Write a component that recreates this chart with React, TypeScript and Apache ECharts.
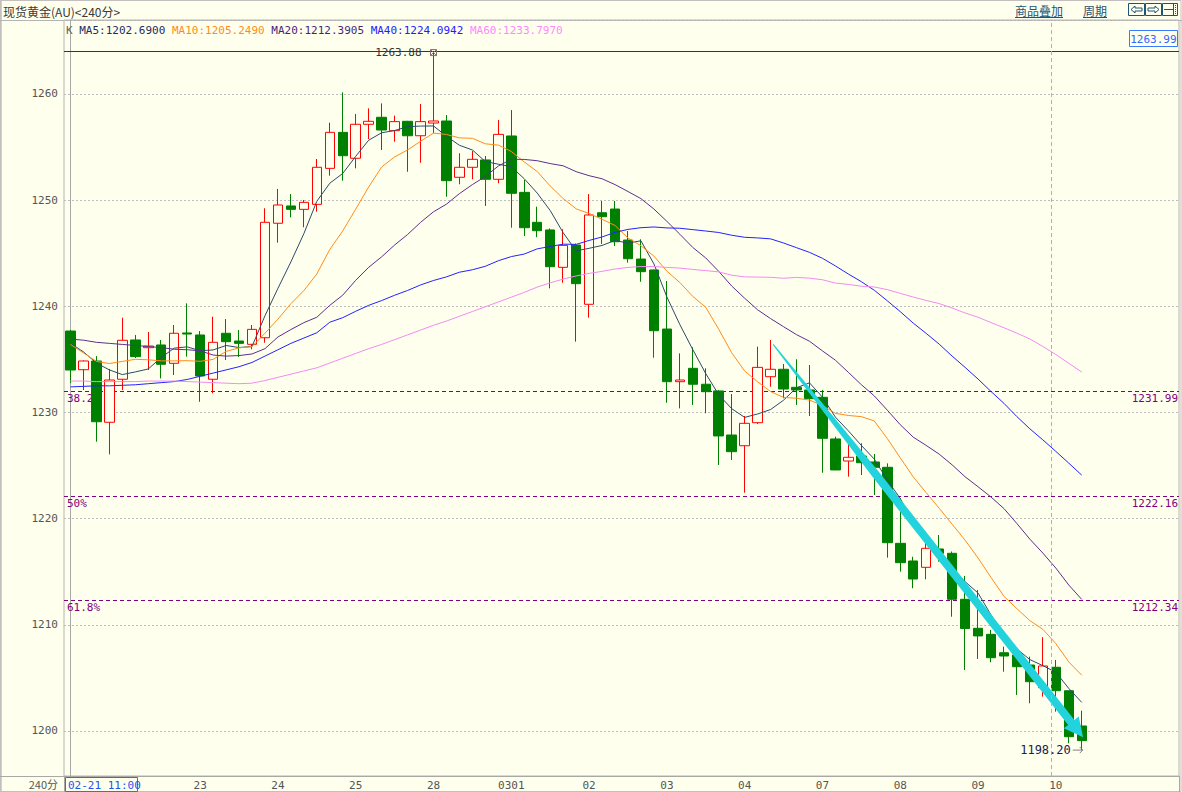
import React, { useEffect, useRef } from 'react';
import * as echarts from 'echarts';

const BG = '#ffffee';
const MONO = '"DejaVu Sans Mono", monospace';
const CJK = '"Noto Sans CJK SC", sans-serif';

// ---- categories (240-minute bars) ----
const days = ['02-21', '02-22', '02-23', '02-24', '02-25', '02-28', '03-01', '03-02', '03-03', '03-04', '03-07', '03-08', '03-09', '03-10'];
const dayTickLabels = ['', '', '23', '24', '25', '28', '0301', '02', '03', '04', '07', '08', '09', '10'];
const barsPerDay = [4, 6, 6, 6, 6, 6, 6, 6, 6, 6, 6, 6, 6, 3];
const dayHours = ['03:00', '07:00', '11:00', '15:00', '19:00', '23:00'];
const firstDayHourOffset = 2;
const emptySlots = 7;

// ---- candles: [open, close, low, high] ----
const ohlc = [
  [1237.66, 1233.99, 1232.77, 1237.76],
  [1234.02, 1234.84, 1232.10, 1234.90],
  [1234.84, 1229.12, 1227.24, 1235.30],
  [1229.07, 1233.05, 1226.05, 1234.09],
  [1233.12, 1236.79, 1232.10, 1238.92],
  [1236.82, 1235.25, 1235.12, 1237.29],
  [1236.09, 1236.25, 1233.99, 1237.57],
  [1236.35, 1234.53, 1233.20, 1236.82],
  [1234.62, 1237.45, 1233.52, 1238.23],
  [1237.48, 1237.38, 1235.25, 1240.27],
  [1237.29, 1233.43, 1231.00, 1237.66],
  [1233.12, 1236.60, 1231.80, 1239.01],
  [1237.45, 1236.66, 1234.93, 1238.79],
  [1236.72, 1236.50, 1235.22, 1237.76],
  [1236.41, 1237.82, 1235.94, 1238.23],
  [1237.03, 1247.90, 1236.56, 1249.22],
  [1247.81, 1249.53, 1245.98, 1251.04],
  [1249.44, 1249.12, 1248.37, 1250.56],
  [1249.12, 1249.78, 1247.43, 1250.00],
  [1249.59, 1253.08, 1248.90, 1253.86],
  [1252.98, 1256.37, 1252.29, 1257.28],
  [1256.37, 1254.17, 1251.82, 1260.14],
  [1253.93, 1257.13, 1252.98, 1258.10],
  [1257.13, 1257.41, 1255.74, 1258.63],
  [1257.79, 1256.59, 1254.71, 1259.10],
  [1256.53, 1257.38, 1255.49, 1257.94],
  [1257.41, 1256.05, 1252.66, 1257.45],
  [1256.05, 1257.38, 1253.51, 1259.04],
  [1257.25, 1257.44, 1256.28, 1263.88],
  [1257.44, 1251.82, 1250.31, 1258.00],
  [1252.14, 1253.08, 1251.48, 1254.40],
  [1253.08, 1253.83, 1251.95, 1254.61],
  [1253.77, 1251.95, 1249.44, 1254.14],
  [1251.95, 1256.18, 1251.57, 1257.53],
  [1256.03, 1250.63, 1247.39, 1258.47],
  [1250.72, 1247.39, 1246.60, 1251.88],
  [1247.90, 1247.11, 1246.50, 1249.37],
  [1247.18, 1243.72, 1241.68, 1247.33],
  [1243.66, 1245.73, 1242.21, 1247.24],
  [1245.76, 1242.12, 1236.66, 1245.90],
  [1240.18, 1248.59, 1238.92, 1250.56],
  [1248.80, 1248.43, 1245.86, 1249.91],
  [1249.15, 1246.07, 1245.67, 1249.91],
  [1246.23, 1244.47, 1244.10, 1247.08],
  [1244.44, 1243.25, 1242.30, 1246.30],
  [1243.41, 1237.69, 1235.15, 1243.45],
  [1237.85, 1232.89, 1230.91, 1242.37],
  [1232.89, 1233.05, 1230.38, 1235.56],
  [1234.15, 1232.65, 1230.70, 1236.13],
  [1232.65, 1231.95, 1229.92, 1234.15],
  [1232.02, 1227.78, 1225.05, 1232.10],
  [1227.87, 1226.30, 1225.52, 1231.73],
  [1226.86, 1228.97, 1222.44, 1229.66],
  [1229.03, 1234.24, 1228.91, 1236.19],
  [1233.36, 1234.06, 1232.42, 1236.82],
  [1234.06, 1232.20, 1231.33, 1234.56],
  [1232.36, 1232.11, 1230.70, 1235.00],
  [1232.11, 1231.29, 1229.66, 1234.46],
  [1231.42, 1227.56, 1224.32, 1232.11],
  [1227.50, 1224.58, 1224.55, 1227.71],
  [1225.42, 1225.77, 1223.95, 1227.02],
  [1225.89, 1225.26, 1224.10, 1227.09],
  [1225.33, 1224.83, 1222.22, 1226.08],
  [1224.83, 1217.73, 1216.32, 1225.20],
  [1217.67, 1215.85, 1215.00, 1221.91],
  [1216.01, 1214.31, 1213.44, 1216.41],
  [1215.41, 1217.20, 1214.28, 1218.52],
  [1217.14, 1216.73, 1215.94, 1218.46],
  [1216.73, 1212.40, 1210.76, 1216.90],
  [1212.40, 1209.65, 1205.74, 1214.60],
  [1209.67, 1208.95, 1206.78, 1213.28],
  [1209.10, 1206.90, 1206.47, 1209.51],
  [1207.37, 1207.06, 1205.58, 1207.94],
  [1207.16, 1206.05, 1203.39, 1207.79],
  [1206.21, 1204.64, 1202.61, 1207.00],
  [1204.08, 1206.12, 1203.23, 1208.82],
  [1206.00, 1203.79, 1201.82, 1206.69],
  [1203.79, 1199.46, 1198.84, 1203.80],
  [1200.47, 1199.09, 1198.20, 1201.91],
];

// ---- moving averages ----
const ma5 = [
  1236.5, 1235.7, 1234.65, 1234.0, 1233.56, 1233.81, 1234.09, 1235.17, 1236.05, 1236.17,
  1235.81, 1235.88, 1236.30, 1236.11, 1236.20, 1239.10, 1241.68, 1244.17, 1246.83, 1249.88,
  1251.58, 1252.50, 1254.11, 1255.63, 1256.33, 1256.54, 1256.91, 1256.96, 1256.97, 1256.01,
  1255.15, 1254.71, 1253.62, 1253.37, 1253.13, 1252.00, 1250.65, 1249.01, 1246.92, 1245.21,
  1245.45, 1245.72, 1246.19, 1245.94, 1246.16, 1243.98, 1240.87, 1238.27, 1235.91, 1233.65,
  1231.66, 1230.35, 1229.53, 1229.85, 1230.27, 1231.15, 1232.32, 1232.78, 1231.44, 1229.55,
  1228.26, 1226.89, 1225.60, 1223.63, 1221.89, 1219.60, 1217.98, 1216.36, 1215.30, 1214.06,
  1212.99, 1210.93, 1208.99, 1207.72, 1206.72, 1206.15, 1205.53, 1204.01, 1202.69,
];
const ma10 = [
  1236.4, 1235.6, 1234.8, 1234.6, 1234.8, 1235.0, 1234.95, 1234.85, 1234.85, 1234.87,
  1234.81, 1234.99, 1235.74, 1236.08, 1236.19, 1237.45, 1238.78, 1240.24, 1241.47, 1243.04,
  1245.34, 1247.09, 1249.14, 1251.23, 1253.11, 1254.06, 1254.71, 1255.53, 1256.30, 1256.17,
  1255.85, 1255.81, 1255.29, 1255.17, 1254.57, 1253.58, 1252.68, 1251.32, 1250.14, 1249.17,
  1248.73, 1248.19, 1247.60, 1246.43, 1245.69, 1244.72, 1243.30, 1242.23, 1240.92, 1239.90,
  1237.82, 1235.61, 1233.90, 1232.88, 1231.96, 1231.41, 1231.33, 1231.16, 1230.65, 1229.91,
  1229.71, 1229.60, 1229.19, 1227.54, 1225.72, 1223.93, 1222.44, 1220.98, 1219.47, 1217.97,
  1216.29, 1214.46, 1212.68, 1211.51, 1210.39, 1209.57, 1208.23, 1206.50, 1205.25,
];
const ma20 = [
  1236.9, 1236.8, 1236.6, 1236.5, 1236.4, 1236.3, 1236.2, 1236.1, 1235.95, 1235.9,
  1235.8, 1235.4, 1235.3, 1235.35, 1235.5, 1236.0, 1237.1, 1237.8, 1238.45, 1238.96,
  1240.08, 1241.04, 1242.44, 1243.66, 1244.65, 1245.76, 1246.75, 1247.89, 1248.89, 1249.61,
  1250.60, 1251.45, 1252.22, 1253.20, 1253.84, 1253.82, 1253.70, 1253.43, 1253.22, 1252.67,
  1252.29, 1252.00, 1251.45, 1250.80, 1250.13, 1249.15, 1247.99, 1246.78, 1245.53, 1244.54,
  1243.28, 1241.90, 1240.75, 1239.66, 1238.83, 1238.07, 1237.32, 1236.70, 1235.79, 1234.91,
  1233.77, 1232.61, 1231.55, 1230.21, 1228.84, 1227.67, 1226.89, 1226.07, 1225.06, 1223.94,
  1223.00, 1222.03, 1220.94, 1219.53, 1218.06, 1216.75, 1215.34, 1213.74, 1212.39,
];
const ma40 = [
  1232.4, 1232.45, 1232.5, 1232.5, 1232.55, 1232.6, 1232.7, 1232.8, 1232.9, 1233.1,
  1233.4, 1233.7, 1234.0, 1234.3, 1234.7, 1235.3, 1235.9, 1236.5, 1237.0, 1237.5,
  1238.49, 1238.92, 1239.52, 1240.08, 1240.53, 1241.03, 1241.48, 1242.00, 1242.42, 1242.76,
  1243.20, 1243.43, 1243.76, 1244.28, 1244.67, 1244.91, 1245.40, 1245.62, 1245.84, 1245.82,
  1246.19, 1246.52, 1246.95, 1247.23, 1247.39, 1247.46, 1247.37, 1247.34, 1247.21, 1247.08,
  1246.94, 1246.68, 1246.49, 1246.43, 1246.34, 1245.95, 1245.51, 1245.07, 1244.51, 1243.79,
  1243.03, 1242.31, 1241.50, 1240.51, 1239.49, 1238.41, 1237.44, 1236.43, 1235.30, 1234.24,
  1233.14, 1231.97, 1230.85, 1229.60, 1228.45, 1227.41, 1226.33, 1225.22, 1224.09,
];
const ma60 = [
  1232.95, 1232.95, 1232.9, 1232.9, 1232.9, 1232.9, 1232.95, 1232.95, 1232.95, 1232.9,
  1232.85, 1232.8, 1232.75, 1232.7, 1232.75, 1233.0, 1233.3, 1233.6, 1233.9, 1234.2,
  1234.65, 1235.1, 1235.55, 1236.0, 1236.4, 1236.85, 1237.3, 1237.75, 1238.2, 1238.6,
  1239.05, 1239.5, 1239.95, 1240.4, 1240.85, 1241.3, 1241.8, 1242.2, 1242.55, 1242.85,
  1243.09, 1243.28, 1243.50, 1243.65, 1243.73, 1243.74, 1243.65, 1243.59, 1243.46, 1243.35,
  1243.23, 1242.92, 1242.76, 1242.74, 1242.72, 1242.63, 1242.71, 1242.64, 1242.49, 1242.18,
  1242.05, 1241.88, 1241.81, 1241.56, 1241.21, 1240.86, 1240.54, 1240.25, 1239.83, 1239.36,
  1238.96, 1238.46, 1237.97, 1237.46, 1236.91, 1236.21, 1235.45, 1234.62, 1233.80,
];

const maNames = ['MA5', 'MA10', 'MA20', 'MA40', 'MA60'];
const maLegendValues = ['1202.6900', '1205.2490', '1212.3905', '1224.0942', '1233.7970'];
const maLineColors = ['#2a4a6c', '#ff8c1a', '#5e2e90', '#2222ff', '#f38af3'];
const maTextColors = ['#1f2d62', '#ff8c1a', '#4a1f7c', '#2020ff', '#ff88ff'];

// ---- annotations ----
const fibLevels = [1231.99, 1222.16, 1212.34];
const fibNames = ['38.2%', '50%', '61.8%'];
const topLevel = 1263.99;
const highMark = [[28, 1263.88]];
const lowMark = [[78, 1198.2]];
const trendArrow = [[54.2, 1236.4, 78.1, 1199.4]];
const cursorX = 75.65;

// ---- y range ----
const yMin = 1195.76;
const yMax = 1266.95;

const PURPLE = '#800080';

const categories: string[] = [];
const axisText: string[] = [];
days.forEach((d, di) => {
  const start = di === 0 ? firstDayHourOffset : 0;
  for (let k = 0; k < barsPerDay[di]; k++) {
    categories.push(d + ' ' + dayHours[start + k]);
    axisText.push(k === 0 ? dayTickLabels[di] : '');
  }
});
for (let k = 0; k < emptySlots; k++) {
  categories.push('pad' + k);
  axisText.push('');
}
const nCat = categories.length;

function buildOption() {
  const maSeries = [ma5, ma10, ma20, ma40, ma60].map((d, i) => ({
    name: maNames[i],
    type: 'line',
    data: d,
    symbol: 'none',
    silent: true,
    z: 3,
    lineStyle: { width: 1, color: maLineColors[i] },
  }));

  const headerRich: any = { k: { color: '#666', fontFamily: MONO, fontSize: 11 } };
  let headerText = '{k|K}';
  maNames.forEach((n, i) => {
    headerRich['m' + i] = { color: maTextColors[i], fontFamily: MONO, fontSize: 11 };
    headerText += ' {m' + i + '|' + n + ':' + maLegendValues[i] + '}';
  });

  const linkColor = '#1f5476';
  const font11 = '11px ' + MONO;

  return {
    animation: false,
    backgroundColor: BG,
    title: {
      left: 66,
      top: 25,
      padding: 0,
      text: headerText,
      textStyle: { fontFamily: MONO, fontSize: 11, fontWeight: 'normal', rich: headerRich },
    },
    grid: {
      left: 64,
      right: 3,
      top: 20,
      bottom: 16,
      show: true,
      borderColor: '#b4b4b4',
      borderWidth: 1,
    },
    xAxis: [
      {
        type: 'category',
        data: categories,
        boundaryGap: true,
        axisLine: { lineStyle: { color: '#a8a8a8' } },
        axisTick: { show: false },
        splitLine: { show: false },
        axisLabel: {
          interval: 0,
          margin: 4,
          color: '#555',
          fontFamily: MONO,
          fontSize: 11,
          formatter: (_v: string, idx: number) => axisText[idx] || '',
        },
      },
      {
        type: 'value',
        min: -0.5,
        max: nCat - 0.5,
        show: false,
        splitLine: { show: false },
      },
    ],
    yAxis: {
      type: 'value',
      min: yMin,
      max: yMax,
      splitNumber: 7,
      axisLine: { show: true, lineStyle: { color: '#a8a8a8' } },
      axisTick: { show: false },
      axisLabel: {
        color: '#555',
        fontFamily: MONO,
        fontSize: 11,
        margin: 6,
        showMinLabel: false,
        showMaxLabel: false,
        formatter: (v: number) => (Math.abs(v - Math.round(v)) < 0.001 ? String(Math.round(v)) : ''),
      },
      splitLine: { lineStyle: { color: '#bdbdbd', type: [2, 2], width: 1 } },
    },
    series: [
      {
        type: 'candlestick',
        data: ohlc,
        barWidth: 10,
        z: 2,
        silent: true,
        itemStyle: {
          color: BG,
          color0: '#008000',
          borderColor: '#ff0000',
          borderColor0: '#008000',
          borderWidth: 1,
        },
      },
      ...maSeries,
      // Fibonacci retracement levels
      {
        type: 'custom',
        xAxisIndex: 1,
        data: fibLevels.map((v, i) => [0, v, i]),
        encode: { x: 0, y: 1 },
        silent: true,
        z: 1,
        renderItem: (params: any, api: any) => {
          const cs = params.coordSys;
          const v = api.value(1);
          const idx = api.value(2);
          const y = Math.round(api.coord([0, v])[1]) + 0.5;
          return {
            type: 'group',
            children: [
              {
                type: 'line',
                shape: { x1: cs.x, y1: y, x2: cs.x + cs.width, y2: y },
                style: { stroke: PURPLE, lineWidth: 1, lineDash: [4, 3] },
              },
              {
                type: 'text', x: cs.x + 3, y: y + 1.5,
                style: { text: fibNames[idx], fill: PURPLE, font: font11, align: 'left', verticalAlign: 'top' },
              },
              {
                type: 'text', x: cs.x + cs.width - 1, y: y + 1.5,
                style: { text: Number(v).toFixed(2), fill: PURPLE, font: font11, align: 'right', verticalAlign: 'top' },
              },
            ],
          };
        },
      },
      // top reference level
      {
        type: 'custom',
        xAxisIndex: 1,
        data: [[0, topLevel]],
        encode: { x: 0, y: 1 },
        silent: true,
        z: 1,
        renderItem: (params: any, api: any) => {
          const cs = params.coordSys;
          const v = api.value(1);
          const y = Math.round(api.coord([0, v])[1]) + 0.5;
          const right = cs.x + cs.width - 1;
          return {
            type: 'group',
            children: [
              {
                type: 'line',
                shape: { x1: cs.x, y1: y, x2: cs.x + cs.width, y2: y },
                style: { stroke: PURPLE, lineWidth: 1 },
              },
              {
                type: 'rect',
                shape: { x: right - 48.5, y: y - 21, width: 48, height: 16 },
                style: { fill: BG, stroke: '#3a7aff', lineWidth: 1 },
              },
              {
                type: 'text', x: right - 1.5, y: y - 12.5,
                style: { text: Number(v).toFixed(2), fill: '#3366ff', font: font11, align: 'right', verticalAlign: 'middle' },
              },
            ],
          };
        },
      },
      // cursor line + trend arrow
      {
        type: 'custom',
        xAxisIndex: 1,
        data: trendArrow,
        encode: { x: [0, 2], y: [1, 3] },
        silent: true,
        z: 4,
        renderItem: (_p: any, api: any) => {
          const s = api.coord([api.value(0), api.value(1)]);
          const e = api.coord([api.value(2), api.value(3)]);
          const dx = e[0] - s[0];
          const dy = e[1] - s[1];
          const L = Math.hypot(dx, dy);
          const ux = dx / L, uy = dy / L;
          const nx = -uy, ny = ux;
          const headLen = 19, headHalf = 9.5, w0 = 1.2, w1 = 8, ramp = 0.33 * L;
          const p = (d: number, off: number) => [s[0] + ux * d + nx * off, s[1] + uy * d + ny * off];
          const pts = [
            p(0, w0 / 2), p(ramp, w1 / 2), p(L - headLen, w1 / 2), p(L - headLen, headHalf), p(L, 0),
            p(L - headLen, -headHalf), p(L - headLen, -w1 / 2), p(ramp, -w1 / 2), p(0, -w0 / 2),
          ];
          return { type: 'polygon', shape: { points: pts }, style: { fill: '#22d3dd' } };
        },
        markLine: {
          silent: true,
          symbol: 'none',
          animation: false,
          label: { show: false },
          lineStyle: { color: '#b0b0b0', type: [4, 3], width: 1 },
          data: [{ xAxis: cursorX }],
        },
      },
      {
        type: 'custom',
        xAxisIndex: 1,
        data: highMark,
        silent: true,
        z: 5,
        renderItem: (_p: any, api: any) => {
          const c = api.coord([api.value(0), api.value(1)]);
          const r = 3;
          const st = { stroke: '#8a6a6a', lineWidth: 1, fill: 'none' };
          return {
            type: 'group',
            children: [
              { type: 'rect', shape: { x: c[0] - r, y: c[1] - r, width: 2 * r, height: 2 * r }, style: st },
              { type: 'line', shape: { x1: c[0] - r, y1: c[1] - r, x2: c[0] + r, y2: c[1] + r }, style: st },
              { type: 'line', shape: { x1: c[0] + r, y1: c[1] - r, x2: c[0] - r, y2: c[1] + r }, style: st },
              {
                type: 'text',
                x: c[0] - 12,
                y: c[1],
                style: {
                  text: Number(api.value(1)).toFixed(2),
                  align: 'right',
                  verticalAlign: 'middle',
                  fill: '#333',
                  font: font11,
                },
              },
            ],
          };
        },
      },
      {
        type: 'custom',
        xAxisIndex: 1,
        data: lowMark,
        silent: true,
        z: 5,
        renderItem: (_p: any, api: any) => {
          const c = api.coord([api.value(0), api.value(1)]);
          const st = { stroke: '#808080', lineWidth: 1, fill: 'none' };
          return {
            type: 'group',
            children: [
              { type: 'line', shape: { x1: c[0] - 9, y1: c[1], x2: c[0] + 1, y2: c[1] }, style: st },
              { type: 'polyline', shape: { points: [[c[0] - 2, c[1] - 3], [c[0] + 1, c[1]], [c[0] - 2, c[1] + 3]] }, style: st },
              {
                type: 'text',
                x: c[0] - 11,
                y: c[1],
                style: {
                  text: Number(api.value(1)).toFixed(2),
                  align: 'right',
                  verticalAlign: 'middle',
                  fill: '#14234f',
                  font: '12px ' + MONO,
                },
              },
            ],
          };
        },
      },
    ],
    graphic: [
      { type: 'rect', silent: true, shape: { x: 1, y: 0.5, width: 1180, height: 791 }, style: { fill: 'none', stroke: '#c4bebe', lineWidth: 1 } },
      { type: 'line', silent: true, shape: { x1: 0.5, y1: 0, x2: 0.5, y2: 792 }, style: { stroke: '#c4bebe', lineWidth: 2 } },
      { type: 'line', silent: true, shape: { x1: 0, y1: 20.5, x2: 1182, y2: 20.5 }, style: { stroke: '#b4b4b4', lineWidth: 1 } },
      { type: 'line', silent: true, shape: { x1: 0, y1: 776.5, x2: 64, y2: 776.5 }, style: { stroke: '#a8a8a8', lineWidth: 1 } },
      { type: 'line', silent: true, shape: { x1: 64.5, y1: 776, x2: 64.5, y2: 792 }, style: { stroke: '#a8a8a8', lineWidth: 1 } },
      { type: 'line', silent: true, shape: { x1: 1179.5, y1: 776, x2: 1179.5, y2: 792 }, style: { stroke: '#a8a8a8', lineWidth: 1 } },
      {
        type: 'text', silent: true, x: 3, y: 11,
        style: { text: '现货黄金(AU)<240分>', fill: '#3a3a3a', font: '12px ' + CJK, verticalAlign: 'middle' },
      },
      {
        type: 'text', silent: true, x: 1015, y: 10,
        style: { text: '商品叠加', fill: linkColor, font: '12px ' + CJK, verticalAlign: 'middle' },
      },
      { type: 'line', silent: true, shape: { x1: 1015, y1: 17.5, x2: 1063, y2: 17.5 }, style: { stroke: linkColor, lineWidth: 1 } },
      {
        type: 'text', silent: true, x: 1083, y: 10,
        style: { text: '周期', fill: linkColor, font: '12px ' + CJK, verticalAlign: 'middle' },
      },
      { type: 'line', silent: true, shape: { x1: 1083, y1: 17.5, x2: 1107, y2: 17.5 }, style: { stroke: linkColor, lineWidth: 1 } },
      { type: 'rect', silent: true, shape: { x: 1128.5, y: 3.5, width: 16, height: 12 }, style: { fill: 'none', stroke: linkColor, lineWidth: 1 } },
      { type: 'rect', silent: true, shape: { x: 1145.5, y: 3.5, width: 16, height: 12 }, style: { fill: 'none', stroke: linkColor, lineWidth: 1 } },
      { type: 'rect', silent: true, shape: { x: 1162.5, y: 3.5, width: 15, height: 12 }, style: { fill: 'none', stroke: linkColor, lineWidth: 1 } },
      { type: 'polygon', silent: true, shape: { points: [[1131, 9.5], [1135, 6], [1135, 8], [1142, 8], [1142, 11], [1135, 11], [1135, 13]] }, style: { fill: 'none', stroke: linkColor, lineWidth: 1 } },
      { type: 'polygon', silent: true, shape: { points: [[1159, 9.5], [1155, 6], [1155, 8], [1148, 8], [1148, 11], [1155, 11], [1155, 13]] }, style: { fill: 'none', stroke: linkColor, lineWidth: 1 } },
      { type: 'line', silent: true, shape: { x1: 1164, y1: 9.5, x2: 1173, y2: 9.5 }, style: { stroke: linkColor, lineWidth: 1 } },
      { type: 'line', silent: true, shape: { x1: 1173.5, y1: 4, x2: 1173.5, y2: 15 }, style: { stroke: linkColor, lineWidth: 1 } },
      { type: 'line', silent: true, shape: { x1: 1175.5, y1: 5, x2: 1175.5, y2: 14 }, style: { stroke: linkColor, lineWidth: 1, lineDash: [1, 1] } },
      {
        type: 'text', silent: true, x: 58, y: 784,
        style: { text: '240分', fill: '#555', font: '11px ' + CJK, align: 'right', verticalAlign: 'middle' },
      },
      { type: 'rect', silent: true, shape: { x: 65.5, y: 777.5, width: 72, height: 14 }, style: { fill: BG, stroke: '#2f6bff', lineWidth: 1 } },
      {
        type: 'text', silent: true, x: 68, y: 785,
        style: { text: categories[0], fill: '#1a55ee', font: '11px ' + MONO, verticalAlign: 'middle' },
      },
    ],
  };
}

export default function App() {
  const ref = useRef<HTMLDivElement>(null);
  useEffect(() => {
    document.body.style.margin = '0';
    const chart = echarts.init(ref.current as HTMLDivElement, null, { renderer: 'svg' });
    chart.setOption(buildOption() as any);
    return () => chart.dispose();
  }, []);
  return <div ref={ref} style={{ width: 1182, height: 792, background: BG }} />;
}
